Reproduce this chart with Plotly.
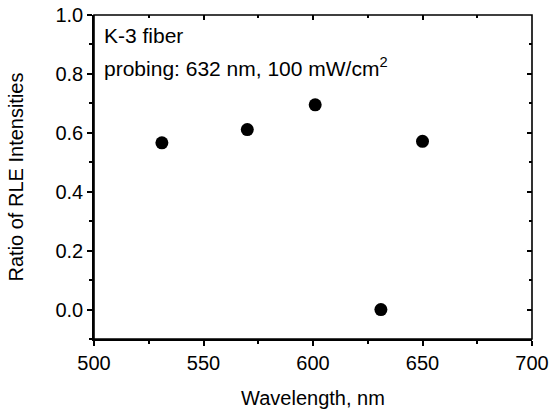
import plotly.graph_objects as go

# wavelength (nm) and ratio of RLE intensities
wavelength = [531, 570, 601, 631, 650]
ratio = [0.566, 0.611, 0.695, 0.0, 0.571]

x_ticks = [500, 550, 600, 650, 700]
y_ticks = [0.0, 0.2, 0.4, 0.6, 0.8, 1.0]

font = "Liberation Sans, Arial, sans-serif"

fig = go.Figure()
fig.add_trace(go.Scatter(x=wavelength, y=ratio, mode="markers",
                         marker=dict(color="black", size=13),
                         showlegend=False, cliponaxis=False))
# dummy trace so the top/right axes get drawn
fig.add_trace(go.Scatter(x=[500], y=[0], xaxis="x2", yaxis="y2",
                         mode="markers", marker=dict(opacity=0),
                         showlegend=False, hoverinfo="skip"))

tick_style = dict(tickcolor="black", tickwidth=1.5, showgrid=False,
                  zeroline=False, automargin=False, ticklabeloverflow="allow")

fig.update_layout(
    width=549, height=412,
    margin=dict(l=94, r=17, t=15, b=73),
    paper_bgcolor="white", plot_bgcolor="white",
    font=dict(family=font, size=20, color="black"),
    xaxis=dict(range=[500, 700], tickvals=x_ticks, ticks="outside", ticklen=5,
               showline=True, linecolor="black", linewidth=1.6,
               minor=dict(ticks="outside", ticklen=3, dtick=25, tick0=500,
                          tickcolor="black", tickwidth=1.5),
               title=dict(text="Wavelength, nm", font=dict(size=20), standoff=18),
               **tick_style),
    yaxis=dict(range=[-0.1, 1.0], tickvals=y_ticks, tickformat=".1f",
               ticks="outside", ticklen=5,
               showline=True, linecolor="black", linewidth=1.6,
               minor=dict(ticks="outside", ticklen=3, dtick=0.1, tick0=0,
                          tickcolor="black", tickwidth=1.5),
               title=dict(text="Ratio of RLE Intensities", font=dict(size=20),
                          standoff=26),
               **tick_style),
    xaxis2=dict(range=[500, 700], tickvals=x_ticks, overlaying="x", side="top",
                ticks="inside", ticklen=5, showticklabels=False, showline=False,
                minor=dict(ticks="inside", ticklen=3, dtick=25, tick0=500,
                           tickcolor="black", tickwidth=1.5),
                **tick_style),
    yaxis2=dict(range=[-0.1, 1.0], tickvals=y_ticks, overlaying="y", side="right",
                ticks="inside", ticklen=5, showticklabels=False, showline=False,
                minor=dict(ticks="inside", ticklen=3, dtick=0.1, tick0=0,
                           tickcolor="black", tickwidth=1.5),
                **tick_style),
)

# plot frame
fig.add_shape(type="rect", xref="paper", yref="paper", x0=0, y0=0, x1=1, y1=1,
              line=dict(color="black", width=1.6), layer="above")

fig.add_annotation(x=0.018, y=0.937, xref="paper", yref="paper",
                   text="K-3 fiber", showarrow=False,
                   xanchor="left", yanchor="middle", font=dict(size=21))
fig.add_annotation(x=0.018, y=0.839, xref="paper", yref="paper",
                   text="probing: 632 nm, 100 mW/cm<sup>2</sup>", showarrow=False,
                   xanchor="left", yanchor="middle", font=dict(size=21))

# drop the default 8px page margin so the figure sits at the window corner
fig.write_html("out.html", config={"displayModeBar": False},
               post_script="document.body.style.margin='0';")
